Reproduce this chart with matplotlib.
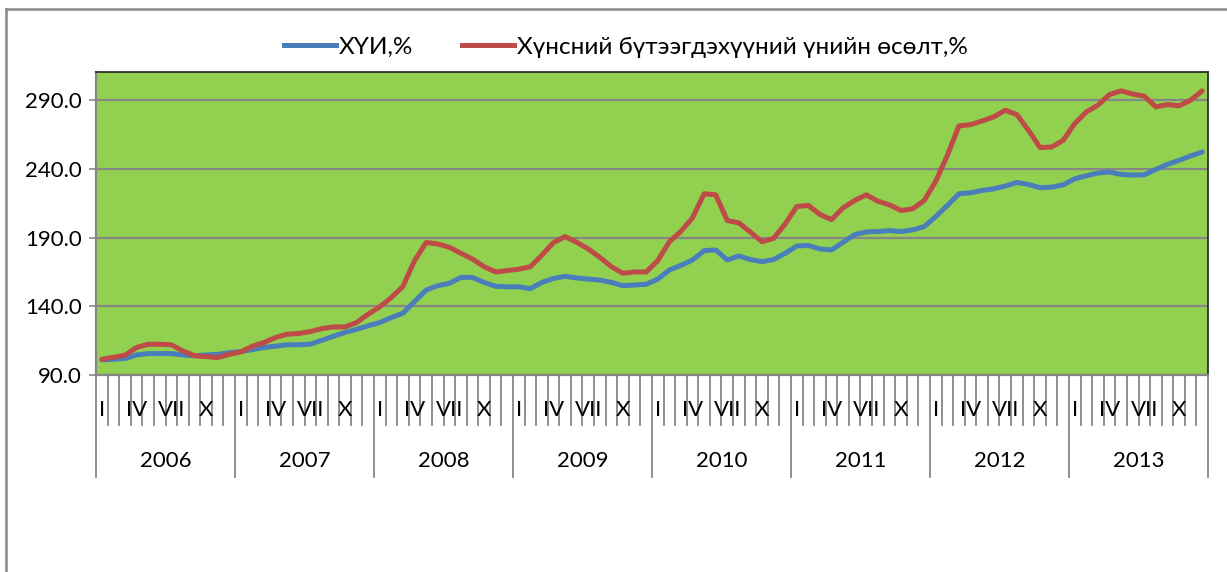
import numpy as np
import matplotlib.pyplot as plt
import matplotlib.transforms as mtransforms
from matplotlib.lines import Line2D

# monthly data, 2006-2013
years = ['2006', '2007', '2008', '2009', '2010', '2011', '2012', '2013']
month_labels = ['I', '', '', 'IV', '', '', 'VII', '', '', 'X', '', '']

cpi = [101.0, 101.4, 102.0, 104.6, 105.6, 105.6, 105.6, 104.6, 104.0, 104.6, 105.0, 106.3,
       107.0, 108.5, 110.0, 111.0, 112.0, 112.0, 112.4, 115.3, 118.2, 121.0, 123.3, 125.8,
       128.2, 131.8, 135.0, 143.5, 151.8, 155.0, 156.7, 161.0, 161.0, 157.4, 154.5, 154.2,
       154.2, 152.8, 157.4, 160.3, 161.8, 160.6, 159.8, 159.1, 157.4, 155.0, 155.5, 156.0,
       159.8, 166.4, 169.8, 173.7, 180.5, 181.0, 173.7, 176.6, 174.0, 172.5, 174.0, 178.6,
       183.9, 184.3, 181.7, 181.0, 186.6, 192.2, 194.1, 194.4, 195.1, 194.4, 195.6, 198.0,
       205.3, 213.4, 221.9, 222.6, 224.3, 225.5, 227.5, 230.1, 228.7, 226.3, 226.7, 228.4,
       232.8, 235.0, 237.0, 237.7, 236.0, 235.5, 235.7, 239.6, 243.3, 246.2, 249.4, 252.3]

food = [101.4, 102.9, 104.4, 110.0, 112.4, 112.4, 112.0, 107.5, 104.0, 103.4, 102.7, 105.0,
        106.8, 111.0, 113.6, 117.3, 119.7, 120.2, 121.6, 123.8, 125.0, 125.0, 128.2, 134.3,
        139.6, 146.4, 154.5, 173.2, 186.4, 185.4, 183.0, 178.6, 174.4, 168.8, 165.0, 166.0,
        167.0, 168.8, 177.3, 186.4, 190.7, 186.6, 181.7, 175.6, 168.8, 164.0, 165.0, 165.0,
        173.2, 187.0, 194.6, 204.4, 221.9, 221.1, 202.4, 200.7, 193.9, 187.0, 189.5, 200.0,
        212.6, 213.4, 206.8, 203.1, 211.7, 217.0, 221.1, 216.5, 213.8, 209.7, 210.9, 217.0,
        231.1, 249.9, 271.3, 272.2, 274.9, 277.8, 282.7, 279.5, 268.1, 255.5, 255.9, 260.8,
        273.0, 281.5, 286.4, 294.1, 296.8, 294.4, 292.9, 285.1, 286.8, 285.9, 290.0, 296.8]

series_names = ['ХҮИ,%', 'Хүнсний бүтээгдэхүүний үнийн өсөлт,%']
colors = ['#4A7EBB', '#BE4B48']

W, H = 1227, 572
fig = plt.figure(figsize=(W / 100, H / 100), dpi=100)
plt.rcParams['font.family'] = ['Lato', 'DejaVu Sans']

ax = fig.add_axes([96 / W, 1 - 375 / H, (1208 - 96) / W, (375 - 72) / H])
ax.set_facecolor('#92D050')

x = np.arange(len(cpi))
ax.plot(x, cpi, color=colors[0], lw=3.6, solid_joinstyle='round', solid_capstyle='round')
ax.plot(x, food, color=colors[1], lw=3.6, solid_joinstyle='round', solid_capstyle='round')

ax.set_xlim(-0.5, len(cpi) - 0.5)
ax.set_ylim(90, 310.5)
ax.set_yticks([90, 140, 190, 240, 290])
ax.set_yticklabels(['%.1f' % v for v in [90, 140, 190, 240, 290]], fontsize=16)
ax.tick_params(axis='y', length=5, color='#868686', width=1.2, pad=5)
ax.grid(axis='y', color='#868686', lw=1.6)
ax.set_axisbelow(True)

for s in ['top', 'right']:
    ax.spines[s].set_color('#222222')
    ax.spines[s].set_linewidth(1.2)
for s in ['left', 'bottom']:
    ax.spines[s].set_color('#868686')
    ax.spines[s].set_linewidth(1.6)

# two-level category axis
ax.set_xticks([])
trans = mtransforms.blended_transform_factory(ax.transData, ax.transAxes)
px = 1.0 / (375 - 72)
for i in range(len(cpi) + 1):
    pos = i - 0.5
    long_line = (i % 12 == 0)
    y_end = -(477 - 375) * px if long_line else -(425 - 375) * px
    ax.add_line(Line2D([pos, pos], [0, y_end], transform=trans, color='#868686',
                       lw=1.3, clip_on=False))
for yi, yr in enumerate(years):
    for m, lab in enumerate(month_labels):
        if lab:
            ax.text(yi * 12 + m, -(410 - 375) * px, lab, transform=trans,
                    ha='center', va='center', fontsize=16)
    ax.text(yi * 12 + 5.5, -(461 - 375) * px, yr, transform=trans,
            ha='center', va='center', fontsize=16)

# legend
handles = [Line2D([], [], color=c, lw=3.6) for c in colors]
fig.legend(handles, series_names, loc='center', bbox_to_anchor=(0.51, 1 - 47 / H),
           ncol=2, frameon=False, fontsize=17.5, handlelength=2.15, handletextpad=0.1,
           columnspacing=2.0)

# outer chart border
fig.add_artist(Line2D([6 / W, 6 / W], [0, 1 - 9 / H], color='#888888', lw=1.8))
fig.add_artist(Line2D([6 / W, 1], [1 - 9 / H, 1 - 9 / H], color='#888888', lw=1.8))

fig.savefig('out.png', dpi=100)
